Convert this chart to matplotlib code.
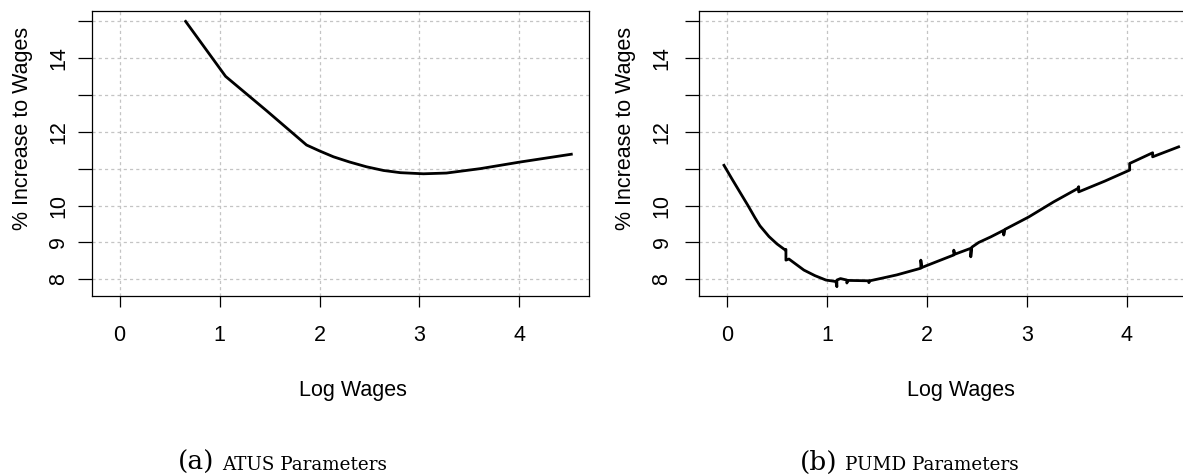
import matplotlib
matplotlib.use("Agg")
import matplotlib.pyplot as plt

plt.rcParams['font.family'] = ['Liberation Sans', 'DejaVu Sans']

# ATUS parameters (panel a)
atus_x = [0.66, 1.06, 1.47, 1.87, 2.0, 2.14, 2.3, 2.47, 2.64, 2.81, 3.04, 3.27, 3.61, 4.01, 4.52]
atus_y = [14.99, 13.50, 12.57, 11.64, 11.48, 11.32, 11.18, 11.05, 10.95, 10.89, 10.86, 10.88, 11.00, 11.18, 11.39]

# PUMD parameters (panel b), small jumps included as repeated x
pumd_x = [-0.03, 0.05, 0.13, 0.21, 0.28, 0.33, 0.42, 0.50, 0.585, 0.59, 0.59, 0.62, 0.77, 0.88, 0.99,
          1.09, 1.10, 1.10, 1.136, 1.20, 1.20, 1.21, 1.42, 1.42, 1.43, 1.55, 1.70, 1.94, 1.94,
          1.95, 2.10, 2.27, 2.27, 2.28, 2.44, 2.44, 2.45, 2.52, 2.64, 2.77, 2.77, 2.78, 3.02,
          3.27, 3.51, 3.52, 3.52, 3.78, 4.03, 4.03, 4.26, 4.26, 4.52]
pumd_y = [11.09, 10.72, 10.36, 10.00, 9.67, 9.45, 9.16, 8.96, 8.79, 8.81, 8.52, 8.55, 8.25, 8.10, 7.98,
          7.94, 7.80, 7.98, 8.02, 7.98, 7.90, 7.97, 7.96, 7.91, 7.96, 8.03, 8.12, 8.30, 8.52,
          8.32, 8.48, 8.66, 8.79, 8.68, 8.84, 8.61, 8.87, 9.00, 9.15, 9.33, 9.20, 9.35, 9.69,
          10.10, 10.46, 10.51, 10.37, 10.66, 10.96, 11.14, 11.43, 11.32, 11.59]

x_ticks = [0, 1, 2, 3, 4]
y_ticks = [8, 9, 10, 11, 12, 13, 14, 15]
y_tick_labels = ['8', '9', '10', '', '12', '', '14', '']

W, H = 1183, 475
fig = plt.figure(figsize=(W / 100, H / 100), dpi=100)

panels = [
    # axes left px, data, ylabel x px, xlabel x px, caption split px, letter, caption, ytick pad
    (91.7, atus_x, atus_y, 22.5, 353, 214, '(a)', 'ATUS Parameters', 6),
    (699.0, pumd_x, pumd_y, 626, 961, 837, '(b)', 'PUMD Parameters', 9),
]

for left, xs, ys, ylab_x, xlab_x, cap_x, letter, caption, ypad in panels:
    ax = fig.add_axes([left / W, (H - 295.7) / H, 497.6 / W, 285.0 / H])
    ax.set_xlim(-0.28, 4.70)
    ax.set_ylim(7.556, 15.28)
    for v in x_ticks:
        ax.axvline(v, color='#c4c4c4', lw=0.9, ls=(0, (2.5, 2.5)), zorder=0)
    for v in y_ticks:
        ax.axhline(v, color='#c4c4c4', lw=0.9, ls=(0, (2.5, 2.5)), zorder=0)
    ax.plot(xs, ys, color='black', lw=2.0, zorder=3)

    ax.set_xticks(x_ticks)
    ax.set_xticklabels([str(t) for t in x_ticks], fontsize=15.5)
    ax.set_yticks(y_ticks)
    ax.set_yticklabels(y_tick_labels, fontsize=15.5, rotation=90)
    for lab in ax.get_yticklabels():
        lab.set_va('center')
    ax.tick_params(axis='x', direction='out', length=8, width=0.9, pad=13)
    ax.tick_params(axis='y', direction='out', length=10, width=0.9, pad=ypad)
    for sp in ax.spines.values():
        sp.set_linewidth(0.9)

    fig.text(ylab_x / W, (H - 128) / H, '% Increase to Wages', rotation=90,
             ha='center', va='center', fontsize=15.5)
    fig.text(xlab_x / W, (H - 396) / H, 'Log Wages', ha='center', va='baseline', fontsize=15.5)
    fig.text(cap_x / W, (H - 470) / H, letter, ha='right', va='baseline',
             fontsize=19, family='DejaVu Serif')
    fig.text((cap_x + 8) / W, (H - 470) / H, caption, ha='left', va='baseline',
             fontsize=13.2, family='DejaVu Serif')

fig.savefig('out.png', dpi=100)
